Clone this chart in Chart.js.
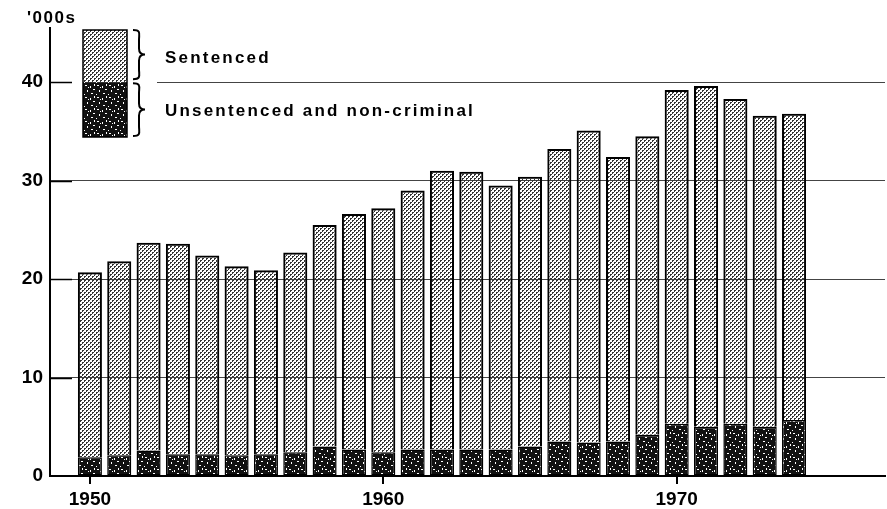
<!DOCTYPE html>
<html>
<head>
<meta charset="utf-8">
<script src="https://cdn.jsdelivr.net/npm/chart.js@4/dist/chart.umd.min.js"></script>
<style>
  html, body { margin: 0; padding: 0; background: #fff; }
  #wrap { width: 887px; height: 509px; }
</style>
</head>
<body>
<div id="wrap"><canvas id="chart" width="887" height="509"></canvas></div>
<script>
// prison population, thousands
const years = [1950, 1951, 1952, 1953, 1954, 1955, 1956, 1957, 1958, 1959,
  1960, 1961, 1962, 1963, 1964, 1965, 1966, 1967, 1968, 1969,
  1970, 1971, 1972, 1973, 1974];
const unsentenced = [1.9, 2.1, 2.6, 2.2, 2.2, 2.1, 2.2, 2.4, 3.0, 2.7,
  2.4, 2.7, 2.7, 2.7, 2.7, 3.0, 3.5, 3.4, 3.5, 4.2,
  5.3, 5.0, 5.3, 5.0, 5.7];
const sentenced = [18.8, 19.7, 21.1, 21.4, 20.2, 19.2, 18.7, 20.3, 22.5, 23.9,
  24.8, 26.3, 28.3, 28.2, 26.8, 27.4, 29.7, 31.7, 28.9, 30.3,
  33.9, 34.6, 33.0, 31.6, 31.1];
const xTicks = [1950, 1960, 1970];
const yTicks = [0, 10, 20, 30, 40];
const legendLabels = ['Sentenced', 'Unsentenced and non-criminal'];

const FONT = '"Liberation Sans", Arial, sans-serif';

// stipple textures, like the printed original
function lightPattern() {
  const c = document.createElement('canvas');
  c.width = 4; c.height = 4;
  const g = c.getContext('2d');
  g.fillStyle = '#333';
  g.fillRect(0, 0, 2, 1);
  g.fillRect(0, 1, 1, 1);
  g.fillRect(2, 2, 2, 1);
  g.fillRect(2, 3, 1, 1);
  return g.createPattern(c, 'repeat');
}

function darkPattern() {
  const c = document.createElement('canvas');
  c.width = 12; c.height = 12;
  const g = c.getContext('2d');
  g.fillStyle = '#111';
  g.fillRect(0, 0, 12, 12);
  g.fillStyle = '#fff';
  const specks = [[1, 1, 2, 1], [6, 2, 1, 2], [9, 5, 2, 1], [3, 6, 1, 2], [7, 9, 2, 1], [0, 10, 1, 1], [10, 0, 1, 2], [4, 3, 1, 1]];
  for (const s of specks) g.fillRect(s[0], s[1], s[2], s[3]);
  return g.createPattern(c, 'repeat');
}

const LIGHT = lightPattern();
const DARK = darkPattern();

function brace(ctx, x, y0, y1) {
  const m = (y0 + y1) / 2;
  const w = 12;
  ctx.beginPath();
  ctx.moveTo(x, y0);
  ctx.bezierCurveTo(x + w * 0.7, y0, x + w * 0.5, y0 + 4, x + w * 0.5, y0 + 10);
  ctx.lineTo(x + w * 0.5, m - 6);
  ctx.bezierCurveTo(x + w * 0.5, m - 1, x + w * 0.8, m, x + w, m);
  ctx.bezierCurveTo(x + w * 0.8, m, x + w * 0.5, m + 1, x + w * 0.5, m + 6);
  ctx.lineTo(x + w * 0.5, y1 - 10);
  ctx.bezierCurveTo(x + w * 0.5, y1 - 4, x + w * 0.7, y1, x, y1);
  ctx.stroke();
}

const decor = {
  id: 'decor',
  afterDraw(chart) {
    const ctx = chart.ctx;
    const ya = chart.scales.y;
    const area = chart.chartArea;
    const y40 = ya.getPixelForValue(40);
    ctx.save();

    // clear gridline behind the legend
    ctx.fillStyle = '#fff';
    ctx.fillRect(area.left + 2, y40 - 3, 105, 6);

    // short solid ticks inside the axis
    ctx.strokeStyle = '#000';
    ctx.lineWidth = 1.5;
    for (const v of yTicks.slice(1)) {
      const py = Math.round(ya.getPixelForValue(v)) + 0.5;
      ctx.beginPath();
      ctx.moveTo(area.left, py);
      ctx.lineTo(area.left + 22, py);
      ctx.stroke();
    }

    // legend box
    const bx = area.left + 33, bw = 44;
    const top = 30, bottom = 137;
    ctx.fillStyle = LIGHT;
    ctx.fillRect(bx, top, bw, y40 - top);
    ctx.fillStyle = DARK;
    ctx.fillRect(bx, y40, bw, bottom - y40);
    ctx.lineWidth = 1.5;
    ctx.strokeStyle = '#000';
    ctx.strokeRect(bx, top, bw, bottom - top);

    ctx.lineWidth = 2;
    brace(ctx, bx + bw + 6, top, y40 - 3);
    brace(ctx, bx + bw + 6, y40 + 1, bottom - 1);

    ctx.fillStyle = '#000';
    ctx.font = 'bold 17px ' + FONT;
    ctx.letterSpacing = '2.2px';
    ctx.textAlign = 'left';
    ctx.textBaseline = 'middle';
    ctx.fillText(legendLabels[0], 165, (top + y40) / 2 + 2);
    ctx.fillText(legendLabels[1], 165, (y40 + bottom) / 2 + 2);

    // unit label
    ctx.letterSpacing = '1.5px';
    ctx.font = 'bold 17px ' + FONT;
    ctx.textBaseline = 'alphabetic';
    ctx.fillText("'000s", 27, 23);
    ctx.restore();
  }
};

new Chart(document.getElementById('chart'), {
  type: 'bar',
  data: {
    datasets: [
      {
        label: legendLabels[1],
        data: years.map((yr, i) => ({ x: yr, y: unsentenced[i] })),
        backgroundColor: DARK,
        borderColor: '#000',
        borderWidth: 1.5,
        borderSkipped: false,
      },
      {
        label: legendLabels[0],
        data: years.map((yr, i) => ({ x: yr, y: sentenced[i] })),
        backgroundColor: LIGHT,
        borderColor: '#000',
        borderWidth: 2,
        borderSkipped: 'bottom',
      }
    ]
  },
  options: {
    responsive: false,
    animation: false,
    barPercentage: 0.82,
    categoryPercentage: 1,
    layout: { padding: { top: 28, right: 2, left: 0, bottom: 0 } },
    plugins: { legend: { display: false }, tooltip: { enabled: false } },
    scales: {
      x: {
        type: 'linear',
        stacked: true,
        offset: false,
        min: 1948.64,
        max: 1977.1,
        afterBuildTicks: s => { s.ticks = xTicks.map(v => ({ value: v })); },
        afterFit: s => { s.height = 33; },
        border: { display: true, color: '#000', width: 2 },
        grid: { offset: false, drawOnChartArea: false, drawTicks: true, tickLength: 8, color: '#000', lineWidth: 2 },
        ticks: {
          color: '#000',
          padding: 4,
          font: { family: FONT, size: 19, weight: 'bold' },
          callback: v => String(v),
          maxRotation: 0
        }
      },
      y: {
        stacked: true,
        min: 0,
        max: 45.5,
        afterBuildTicks: s => { s.ticks = yTicks.map(v => ({ value: v })); },
        afterFit: s => { s.width = 50; },
        border: { display: true, color: '#000', width: 2 },
        grid: {
          drawTicks: false,
          color: ctx => ctx.tick && ctx.tick.value === 0 ? 'rgba(0,0,0,0)' : '#444',
          lineWidth: 1,
          borderDash: [3, 3]
        },
        ticks: {
          color: '#000',
          padding: 7,
          font: { family: FONT, size: 19, weight: 'bold' },
          callback: v => String(v)
        }
      }
    }
  },
  plugins: [decor]
});
</script>
</body>
</html>
